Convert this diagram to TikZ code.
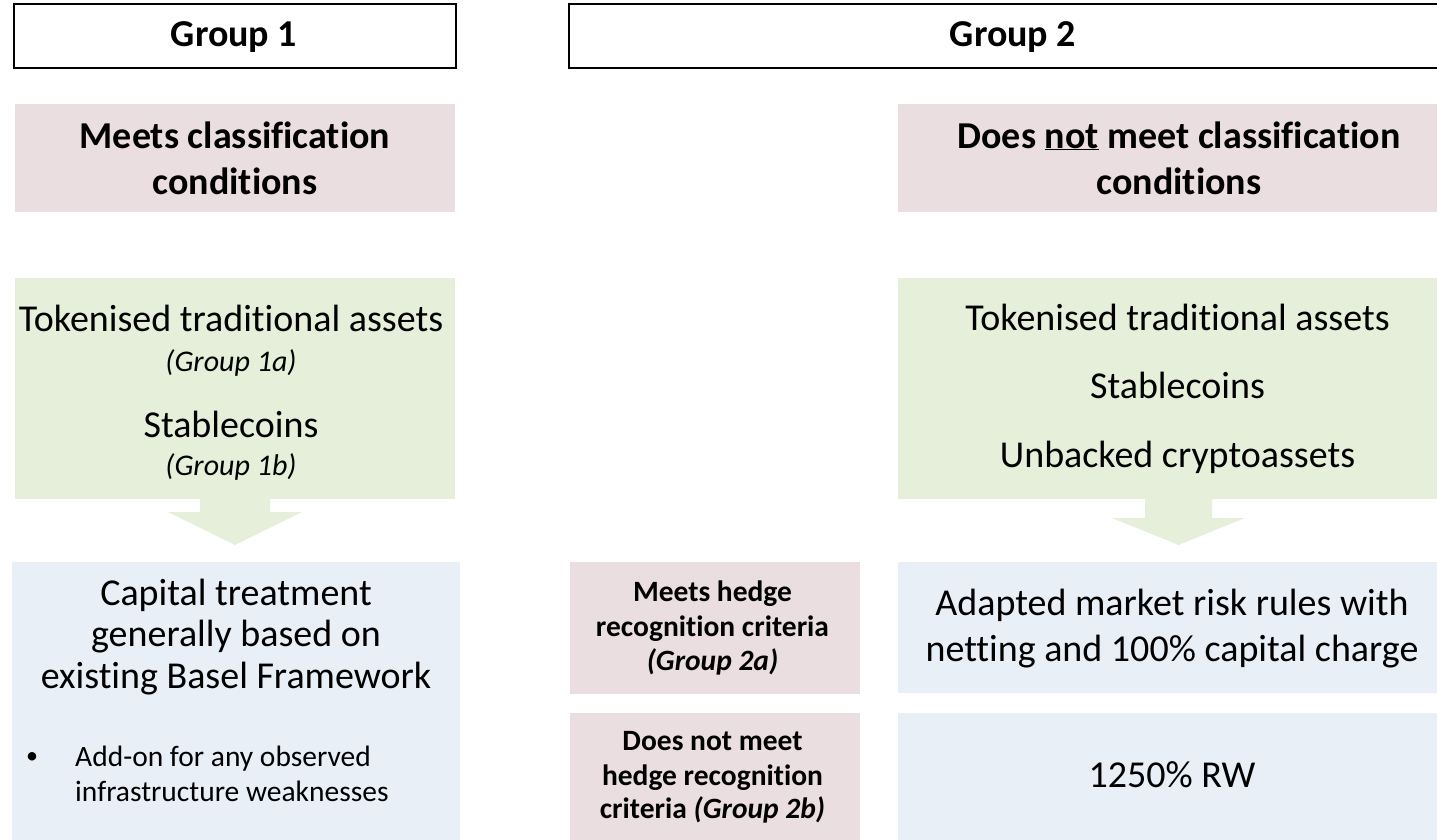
\documentclass[tikz,border=0pt]{standalone}
\usepackage{fontspec}
\setmainfont{Carlito}[Ligatures=NoCommon]
\definecolor{pinkbox}{RGB}{235,222,224}
\definecolor{greenbox}{RGB}{230,239,217}
\definecolor{bluebox}{RGB}{233,239,247}
\tikzset{
  grpbox/.style={draw=black, line width=2.5pt, fill=white, rectangle, inner sep=0pt},
  fillbox/.style={rectangle, inner sep=0pt, draw=none},
  bighead/.style={font=\fontsize{38}{44}\selectfont\bfseries, inner sep=0pt, anchor=base},
  bigtxt/.style={font=\fontsize{38}{44}\selectfont, inner sep=0pt, anchor=base},
  smallit/.style={font=\fontsize{30}{34}\selectfont\itshape, inner sep=0pt, anchor=base},
  smallbold/.style={font=\fontsize{29.5}{34}\selectfont\bfseries, inner sep=0pt, anchor=base},
  smalltxt/.style={font=\fontsize{29.5}{35}\selectfont, inner sep=0pt, anchor=base west},
  blockarrow/.style={fill=greenbox, draw=none}
}
\begin{document}
\begin{tikzpicture}[x=1pt,y=-1pt]
\path[use as bounding box] (0,0) rectangle (1437,839);
\clip (0,0) rectangle (1437,839);

% Group headers
\node[grpbox, minimum width=442pt, minimum height=64pt] (g1) at (235,36) {};
\node[bighead] (g1t) at (234,46.7) {Group 1};
\node[grpbox, minimum width=887pt, minimum height=64pt] (g2) at (1012.5,36) {};
\node[bighead] (g2t) at (1013,46.7) {Group 2};

% Classification condition boxes
\node[fillbox, fill=pinkbox, minimum width=440pt, minimum height=108pt] (p1) at (235,158) {};
\node[bighead] (p1a) at (235,148.5) {Meets classification};
\node[bighead] (p1b) at (235,194) {conditions};
\node[fillbox, fill=pinkbox, minimum width=560pt, minimum height=108pt] (p2) at (1178,158) {};
\node[bighead] (p2a) at (1179,148) {Does \underline{not} meet classification};
\node[bighead] (p2b) at (1179,194) {conditions};

% Asset boxes
\node[fillbox, fill=greenbox, minimum width=440pt, minimum height=221pt] (gL) at (235,388.5) {};
\node[bigtxt] (gL1) at (231,331.7) {Tokenised traditional assets};
\node[smallit] (gL2) at (231,371) {(Group 1a)};
\node[bigtxt] (gL3) at (231,437.5) {Stablecoins};
\node[smallit] (gL4) at (231,475.5) {(Group 1b)};
\fill[blockarrow] (200,497) -- (200,512) -- (168,512) -- (235,545) -- (302,512) -- (270,512) -- (270,497) -- cycle;

\node[fillbox, fill=greenbox, minimum width=560pt, minimum height=221pt] (gR) at (1178,388.5) {};
\node[bigtxt] (gR1) at (1177.5,330.5) {Tokenised traditional assets};
\node[bigtxt] (gR2) at (1177.5,398.5) {Stablecoins};
\node[bigtxt] (gR3) at (1177.5,467.5) {Unbacked cryptoassets};
\fill[blockarrow] (1145,497) -- (1145,518) -- (1112,518) -- (1178.5,545) -- (1245,518) -- (1212,518) -- (1212,497) -- cycle;

% Treatment boxes, Group 1
\node[fillbox, fill=bluebox, minimum width=448pt, minimum height=280pt] (bL) at (236,702) {};
\node[bigtxt] (bL1) at (236,605) {Capital treatment};
\node[bigtxt] (bL2) at (236,646.7) {generally based on};
\node[bigtxt] (bL3) at (236,688.3) {existing Basel Framework};
\node[font=\fontsize{24}{30}\selectfont, inner sep=0pt] (bLb) at (32,758) {\textbullet};
\node[smalltxt] (bL4) at (75,766.7) {Add-on for any observed};
\node[smalltxt] (bL5) at (75,801.7) {infrastructure weaknesses};

% Hedge recognition boxes, Group 2
\node[fillbox, fill=pinkbox, minimum width=290pt, minimum height=132pt] (h1) at (715,628) {};
\node[smallbold] (h1a) at (712.5,601.7) {Meets hedge};
\node[smallbold] (h1b) at (712.5,636.7) {recognition criteria};
\node[smallbold] (h1c) at (712.5,670) {\itshape (Group 2a)};
\node[fillbox, fill=pinkbox, minimum width=290pt, minimum height=130pt] (h2) at (715,778) {};
\node[smallbold] (h2a) at (712.5,750) {Does not meet};
\node[smallbold] (h2b) at (712.5,785) {hedge recognition};
\node[smallbold] (h2c) at (712.5,818.5) {criteria \textit{(Group 2b)}};

% Treatment boxes, Group 2
\node[fillbox, fill=bluebox, minimum width=560pt, minimum height=131pt] (t1) at (1178,627.5) {};
\node[bigtxt] (t1a) at (1172,615.5) {Adapted market risk rules with};
\node[bigtxt] (t1b) at (1172,661.5) {netting and 100\% capital charge};
\node[fillbox, fill=bluebox, minimum width=560pt, minimum height=130pt] (t2) at (1178,778) {};
\node[bigtxt] (t2a) at (1172,787) {1250\% RW};
\end{tikzpicture}
\end{document}
